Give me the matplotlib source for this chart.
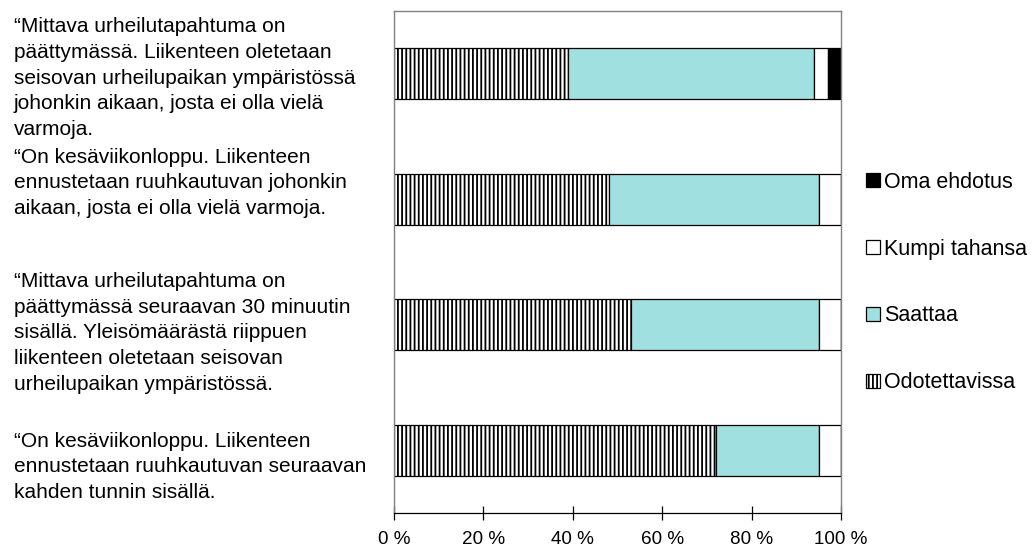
import matplotlib
matplotlib.use("Agg")
import matplotlib.pyplot as plt
import numpy as np
from matplotlib.patches import Patch

plt.rcParams['font.family'] = ['Liberation Sans', 'DejaVu Sans']
plt.rcParams['hatch.linewidth'] = 1.3

# Data (top to bottom)
categories = [
    "\u201cMittava urheilutapahtuma on\npäättymässä. Liikenteen oletetaan\nseisovan urheilupaikan ympäristössä\njohonkin aikaan, josta ei olla vielä\nvarmoja.",
    "\u201cOn kesäviikonloppu. Liikenteen\nennustetaan ruuhkautuvan johonkin\naikaan, josta ei olla vielä varmoja.",
    "\u201cMittava urheilutapahtuma on\npäättymässä seuraavan 30 minuutin\nsisällä. Yleisömäärästä riippuen\nliikenteen oletetaan seisovan\nurheilupaikan ympäristössä.",
    "\u201cOn kesäviikonloppu. Liikenteen\nennustetaan ruuhkautuvan seuraavan\nkahden tunnin sisällä.",
]
series_names = ["Odotettavissa", "Saattaa", "Kumpi tahansa", "Oma ehdotus"]
odotettavissa = [39, 48, 53, 72]
saattaa = [55, 47, 42, 23]
kumpi_tahansa = [3, 5, 5, 5]
oma_ehdotus = [3, 0, 0, 0]
x_ticks = [0, 20, 40, 60, 80, 100]
x_tick_labels = ["0 %", "20 %", "40 %", "60 %", "80 %", "100 %"]

fig = plt.figure(figsize=(10.35, 5.56), dpi=100)
ax = fig.add_axes([394/1035, 1-513/556, (841-394)/1035, (513-11)/556])

n = len(categories)
ypos = np.arange(n)[::-1]  # top category at top
styles = [
    dict(facecolor="white", hatch="||||"),
    dict(facecolor="#A0E0E0"),
    dict(facecolor="white"),
    dict(facecolor="black"),
]
series = [odotettavissa, saattaa, kumpi_tahansa, oma_ehdotus]
left = np.zeros(n)
handles = []
for name, vals, st in zip(series_names, series, styles):
    vals = np.array(vals, dtype=float)
    ax.barh(ypos, vals, left=left, height=0.41, edgecolor="black",
            linewidth=0.9, **st)
    left += vals
    handles.append(Patch(edgecolor="black", linewidth=0.9, label=name, **st))

ax.set_xlim(0, 100)
ax.set_ylim(-0.5, n - 0.5)
ax.set_yticks([])
ax.set_xticks(x_ticks)
ax.set_xticklabels(x_tick_labels, fontsize=13.6)
ax.tick_params(axis='x', direction='inout', length=10, width=0.9, pad=8)
for s in ['left', 'top', 'right']:
    ax.spines[s].set_color("#808080")
    ax.spines[s].set_linewidth(1.0)
ax.spines['bottom'].set_color("black")
ax.spines['bottom'].set_linewidth(0.9)

# Category labels, left-aligned
label_centers = [78, 183, 333, 467]
for txt, yc in zip(categories, label_centers):
    fig.text(14/1035, 1 - yc/556, txt, ha='left', va='center',
             fontsize=15, linespacing=1.44)

leg = fig.legend(handles=handles[::-1], loc='center left',
                 bbox_to_anchor=(866/1035, 1 - 282.5/556), frameon=False,
                 fontsize=15.5, labelspacing=2.13, handlelength=0.65,
                 handleheight=0.65, handletextpad=0.19, borderpad=0,
                 borderaxespad=0)

fig.savefig("out.png", dpi=100)
